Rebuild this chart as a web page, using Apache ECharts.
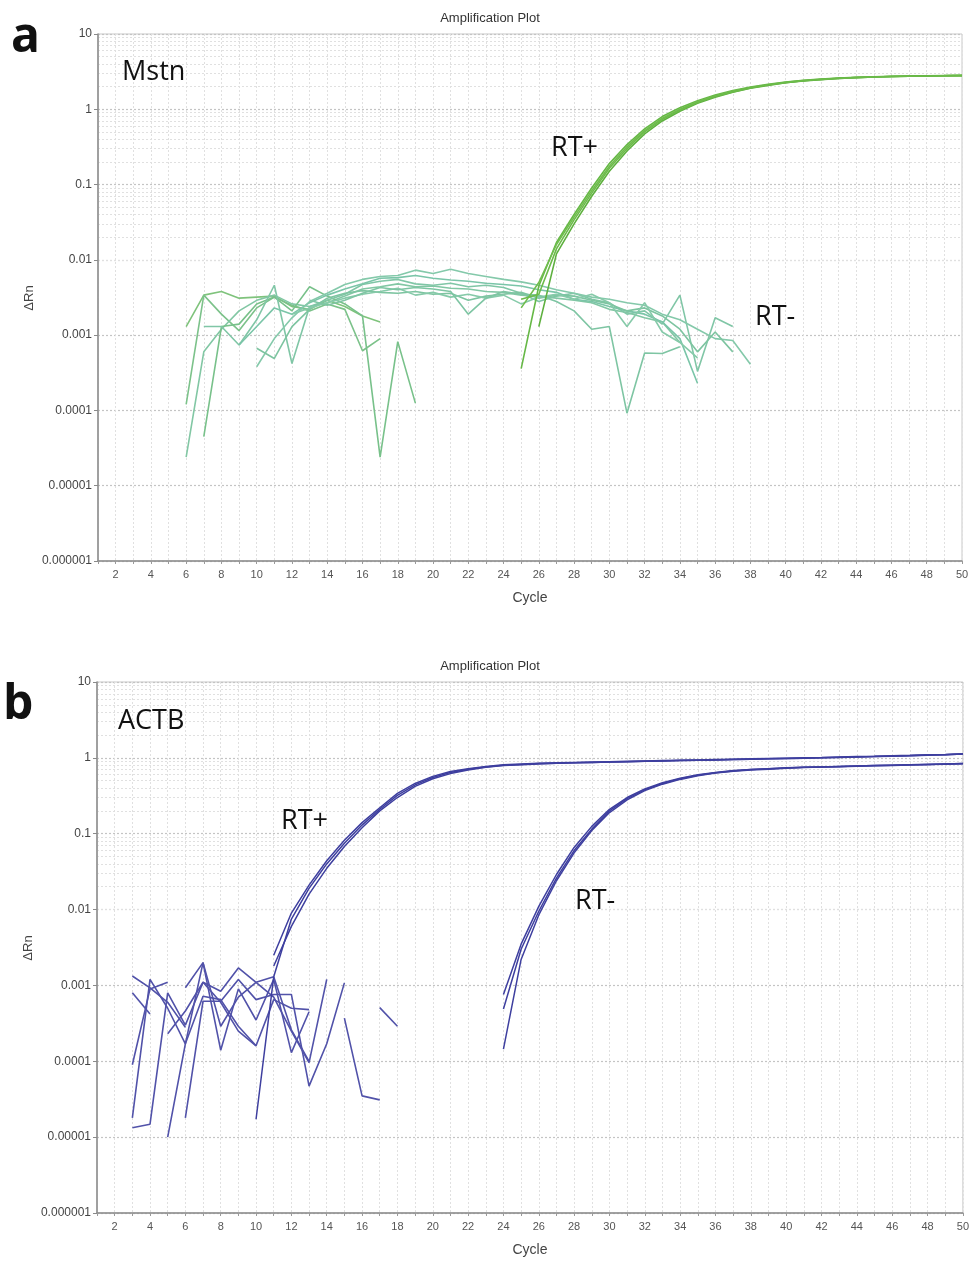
<!DOCTYPE html>
<html>
<head>
<meta charset="utf-8">
<title>Amplification Plot</title>
<script src="https://cdn.jsdelivr.net/npm/echarts@6/dist/echarts.min.js"></script>
<style>
  html, body { margin: 0; padding: 0; background: #ffffff; }
  #chart { width: 972px; height: 1264px; }
</style>
</head>
<body>
<div id="chart"></div>
<script>
// ---- axis ticks ----
const yTickLabels = ['0.000001', '0.00001', '0.0001', '0.001', '0.01', '0.1', '1', '10'];
const cycleRange = [1, 50];

// ---- Mstn: RT+ wells (ΔRn per cycle) ----
const mstnPos1 = [[25,0.00036],[26,0.0045],[27,0.017],[28,0.04],[29,0.09],[30,0.19],[31,0.34],[32,0.55],[33,0.8],[34,1.05],[35,1.3],[36,1.55],[37,1.78],[38,1.98],[39,2.15],[40,2.3],[41,2.42],[42,2.52],[43,2.6],[44,2.66],[45,2.7],[46,2.74],[47,2.77],[48,2.79],[49,2.8],[50,2.82]];
const mstnPos2 = [[25,0.0023],[26,0.005],[27,0.016],[28,0.037],[29,0.083],[30,0.175],[31,0.32],[32,0.52],[33,0.76],[34,1.0],[35,1.26],[36,1.5],[37,1.73],[38,1.94],[39,2.12],[40,2.28],[41,2.4],[42,2.5],[43,2.58],[44,2.64],[45,2.69],[46,2.73],[47,2.76],[48,2.78],[49,2.8],[50,2.81]];
const mstnPos3 = [[26,0.0013],[27,0.012],[28,0.03],[29,0.07],[30,0.15],[31,0.28],[32,0.47],[33,0.7],[34,0.94],[35,1.2],[36,1.45],[37,1.68],[38,1.9],[39,2.08],[40,2.25],[41,2.38],[42,2.48],[43,2.57],[44,2.63],[45,2.68],[46,2.72],[47,2.75],[48,2.78],[49,2.79],[50,2.8]];
const mstnPos4 = [[25,0.003],[26,0.0035],[27,0.014],[28,0.034],[29,0.077],[30,0.165],[31,0.3],[32,0.5],[33,0.73],[34,0.97],[35,1.23],[36,1.48],[37,1.7],[38,1.92],[39,2.1],[40,2.26],[41,2.39],[42,2.49],[43,2.57],[44,2.63],[45,2.68],[46,2.72],[47,2.75],[48,2.77],[49,2.79],[50,2.8]];

// ---- Mstn: RT- wells ----
const mstnNeg1 = [[6,0.0013],[7,0.0034],[8,0.0038],[9,0.0031],[10,0.0032],[11,0.0033],[12,0.0024],[13,0.0022],[14,0.0029],[15,0.0024],[16,0.0018],[17,0.0015]];
const mstnNeg2 = [[6,0.00012],[7,0.0034],[8,0.0019],[9,0.00115],[10,0.0023],[11,0.0032],[12,0.0025],[13,0.0021],[14,0.0026],[15,0.0022],[16,0.00062],[17,0.0009]];
const mstnNeg3 = [[6,0.000024],[7,0.0006],[8,0.0012],[9,0.0021],[10,0.0029],[11,0.0034],[12,0.0026],[13,0.0024],[14,0.0027],[15,0.0033],[16,0.0041],[17,0.0044],[18,0.0048],[19,0.0044],[20,0.0045],[21,0.0042],[22,0.0041],[23,0.0038],[24,0.0037],[25,0.0034],[26,0.0033],[27,0.0031],[28,0.0029],[29,0.0027],[30,0.0022],[31,0.002],[32,0.0017],[33,0.0015],[34,0.0008]];
const mstnNeg4 = [[7,0.000045],[8,0.0013],[9,0.0014],[10,0.0026],[11,0.0032],[12,0.0021],[13,0.0044],[14,0.0033],[15,0.0026],[16,0.0018],[17,0.000024],[18,0.00082],[19,0.000125]];
const mstnNeg5 = [[7,0.0013],[8,0.0013],[9,0.00074],[10,0.0016],[11,0.0046],[12,0.00042],[13,0.0024],[14,0.0029],[15,0.0035],[16,0.0047],[17,0.0052],[18,0.0055],[19,0.0048],[20,0.0046],[21,0.0049],[22,0.0044],[23,0.0046],[24,0.0043],[25,0.0036],[26,0.0028],[27,0.0033],[28,0.0036],[29,0.003],[30,0.0027],[31,0.0019],[32,0.0021],[33,0.0014],[34,0.0034],[35,0.00033],[36,0.0017],[37,0.0013]];
const mstnNeg6 = [[9,0.00074],[10,0.0013],[11,0.0023],[12,0.0019],[13,0.0027],[14,0.0034],[15,0.0041],[16,0.0048],[17,0.0057],[18,0.0058],[19,0.0062],[20,0.0057],[21,0.0054],[22,0.0052],[23,0.0049],[24,0.0047],[25,0.0045],[26,0.004],[27,0.0037],[28,0.003],[29,0.0028],[30,0.0024],[31,0.0021],[32,0.0019],[33,0.0015],[34,0.0009],[35,0.00023]];
const mstnNeg7 = [[10,0.00038],[11,0.0009],[12,0.0017],[13,0.0028],[14,0.0036],[15,0.0047],[16,0.0055],[17,0.006],[18,0.0062],[19,0.0073],[20,0.0066],[21,0.0075],[22,0.0066],[23,0.006],[24,0.0055],[25,0.0051],[26,0.0046],[27,0.004],[28,0.0036],[29,0.0032],[30,0.003],[31,0.0027],[32,0.0025],[33,0.0019],[34,0.0016],[35,0.0012],[36,0.0009],[37,0.00085],[38,0.00041]];
const mstnNeg8 = [[10,0.00067],[11,0.00049],[12,0.0013],[13,0.0022],[14,0.0031],[15,0.0036],[16,0.0039],[17,0.0037],[18,0.0036],[19,0.0038],[20,0.0035],[21,0.0036],[22,0.0029],[23,0.0033],[24,0.0035],[25,0.0037],[26,0.0031],[27,0.0034],[28,0.0033],[29,0.0029],[30,0.0026],[31,0.0021],[32,0.0023],[33,0.0018],[34,0.0012],[35,0.0006],[36,0.0011],[37,0.0006]];
const mstnNeg9 = [[12,0.0019],[13,0.0023],[14,0.0027],[15,0.0031],[16,0.0035],[17,0.0038],[18,0.0042],[19,0.0034],[20,0.0037],[21,0.0032],[22,0.0035],[23,0.0031],[24,0.0034],[25,0.0026],[26,0.0032],[27,0.0035],[28,0.003],[29,0.0035],[30,0.0027],[31,0.0013],[32,0.0027],[33,0.0011],[34,0.0008],[35,0.0005]];
const mstnNeg10 = [[13,0.0029],[14,0.0025],[15,0.0029],[16,0.0036],[17,0.0043],[18,0.004],[19,0.0043],[20,0.0041],[21,0.0038],[22,0.0019],[23,0.0031],[24,0.0038],[25,0.0035],[26,0.0034],[27,0.0028],[28,0.0021],[29,0.0012],[30,0.0013],[31,0.000092],[32,0.00058],[33,0.00057],[34,0.0007]];

// ---- ACTB: RT+ wells ----
const actbPos1 = [[10,0.0000172],[11,0.0013],[12,0.0075],[13,0.019],[14,0.04],[15,0.075],[16,0.13],[17,0.21],[18,0.32],[19,0.44],[20,0.55],[21,0.64],[22,0.71],[23,0.76],[24,0.8],[25,0.82],[26,0.84],[27,0.85],[28,0.86],[29,0.87],[30,0.88],[31,0.89],[32,0.9],[33,0.91],[34,0.92],[35,0.93],[36,0.94],[37,0.95],[38,0.96],[39,0.97],[40,0.98],[41,0.99],[42,1.0],[43,1.01],[44,1.03],[45,1.04],[46,1.05],[47,1.07],[48,1.08],[49,1.1],[50,1.12]];
const actbPos2 = [[11,0.0025],[12,0.009],[13,0.021],[14,0.044],[15,0.082],[16,0.14],[17,0.22],[18,0.34],[19,0.46],[20,0.57],[21,0.66],[22,0.72],[23,0.77],[24,0.81],[25,0.83],[26,0.85],[27,0.86],[28,0.87],[29,0.88],[30,0.89],[31,0.9],[32,0.91],[33,0.92],[34,0.93],[35,0.94],[36,0.95],[37,0.96],[38,0.97],[39,0.98],[40,0.99],[41,1.0],[42,1.01],[43,1.03],[44,1.04],[45,1.05],[46,1.07],[47,1.08],[48,1.1],[49,1.11],[50,1.13]];
const actbPos3 = [[11,0.0018],[12,0.006],[13,0.016],[14,0.035],[15,0.068],[16,0.12],[17,0.2],[18,0.3],[19,0.42],[20,0.53],[21,0.62],[22,0.69],[23,0.75],[24,0.79],[25,0.81],[26,0.83],[27,0.85],[28,0.86],[29,0.87],[30,0.88],[31,0.89],[32,0.9],[33,0.91],[34,0.92],[35,0.93],[36,0.94],[37,0.95],[38,0.96],[39,0.97],[40,0.98],[41,0.99],[42,1.0],[43,1.02],[44,1.03],[45,1.04],[46,1.06],[47,1.07],[48,1.09],[49,1.1],[50,1.12]];

// ---- ACTB: RT- wells ----
const actbNeg1 = [[24,0.00076],[25,0.0035],[26,0.011],[27,0.029],[28,0.066],[29,0.125],[30,0.21],[31,0.3],[32,0.39],[33,0.47],[34,0.54],[35,0.6],[36,0.64],[37,0.68],[38,0.7],[39,0.72],[40,0.74],[41,0.75],[42,0.76],[43,0.77],[44,0.78],[45,0.79],[46,0.8],[47,0.81],[48,0.82],[49,0.83],[50,0.84]];
const actbNeg2 = [[24,0.00049],[25,0.003],[26,0.0095],[27,0.026],[28,0.06],[29,0.115],[30,0.2],[31,0.29],[32,0.38],[33,0.46],[34,0.53],[35,0.59],[36,0.635],[37,0.67],[38,0.7],[39,0.72],[40,0.735],[41,0.75],[42,0.76],[43,0.77],[44,0.78],[45,0.79],[46,0.8],[47,0.81],[48,0.82],[49,0.83],[50,0.84]];
const actbNeg3 = [[24,0.000145],[25,0.0022],[26,0.0085],[27,0.024],[28,0.056],[29,0.11],[30,0.19],[31,0.28],[32,0.37],[33,0.45],[34,0.52],[35,0.58],[36,0.63],[37,0.665],[38,0.69],[39,0.71],[40,0.73],[41,0.745],[42,0.755],[43,0.765],[44,0.775],[45,0.785],[46,0.795],[47,0.805],[48,0.815],[49,0.825],[50,0.835]];

// ---- ACTB: baseline noise of wells below threshold ----
const actbNoise1 = [[3,0.00133],[4,0.00093],[5,0.0006],[6,0.00028]];
const actbNoise2 = [[3,0.0008],[4,0.00042]];
const actbNoise3 = [[3,0.00009],[4,0.0009],[5,0.0011]];
const actbNoise4 = [[3,0.000018],[4,0.0012],[5,0.0005],[6,0.00017],[7,0.002],[8,0.00014],[9,0.0009],[10,0.00035],[11,0.0012],[12,0.00013],[13,0.00045]];
const actbNoise5 = [[3,0.0000133],[4,0.0000148],[5,0.0008],[6,0.0003],[7,0.0011],[8,0.00084],[9,0.0017],[10,0.0011],[11,0.0013],[12,0.00026],[13,0.0001]];
const actbNoise6 = [[5,0.00001],[6,0.00017],[7,0.00072],[8,0.00065],[9,0.00029],[10,0.00016],[11,0.00065],[12,0.0005],[13,0.00048]];
const actbNoise7 = [[6,0.000018],[7,0.00062],[8,0.00062],[9,0.0012],[10,0.00065],[11,0.00076],[12,0.00076],[13,0.000047],[14,0.00017],[15,0.00108]];
const actbNoise8 = [[6,0.00093],[7,0.002],[8,0.00029],[9,0.0007],[10,0.0011],[11,0.0007],[12,0.00025],[13,0.000096],[14,0.0012]];
const actbNoise9 = [[15,0.00037],[16,0.000035],[17,0.000031]];
const actbNoise10 = [[17,0.00051],[18,0.00029]];
const actbNoise11 = [[5,0.00023],[6,0.00046],[7,0.0011],[8,0.0006],[9,0.00025],[10,0.00016]];

// ---- styling ----
const FONT = '"Liberation Sans", Arial, sans-serif';
const ANNOT = '"Open Sans", "Noto Sans", sans-serif';
const greenPos = ['#66b846', '#70bd4e', '#5eb03f', '#6cbb4a'];
const greenNeg = ['#7fc37c', '#7cc28a', '#82c7a4', '#78c18a', '#80c6a6', '#7ac5a8', '#84c9aa', '#7dc4a0', '#86caa9', '#7ec5a3'];
const bluePos = '#3e3f9f';
const blueNoise = '#5152a9';

// log-spaced minor grid (2..9 within each decade)
const minorGrid = [];
for (let e = -6; e < 1; e++) {
  for (let m = 2; m <= 9; m++) minorGrid.push(m * Math.pow(10, e));
}

function line(data, gridIdx, color, width, z) {
  return {
    type: 'line', data: data, xAxisIndex: gridIdx, yAxisIndex: gridIdx,
    showSymbol: false, symbol: 'none', smooth: false, silent: true, z: z || 3,
    lineStyle: { color: color, width: width }
  };
}

function gridSeries(gridIdx) {
  return {
    type: 'line', data: [], xAxisIndex: gridIdx, yAxisIndex: gridIdx, z: 0, silent: true,
    markLine: {
      z: 0, silent: true, symbol: ['none', 'none'], label: { show: false }, animation: false,
      lineStyle: { color: '#e0e0e0', type: [2, 2], width: 1 },
      data: minorGrid.map(v => ({ yAxis: v }))
    }
  };
}

function xAxis(gridIdx) {
  return {
    type: 'value', gridIndex: gridIdx, min: cycleRange[0], max: cycleRange[1], interval: 1,
    name: 'Cycle', nameLocation: 'middle', nameGap: 30,
    nameTextStyle: { fontFamily: FONT, fontSize: 14, color: '#444' },
    axisLine: { show: true, onZero: false, lineStyle: { color: '#8a8a8a', width: 1.5 } },
    axisTick: { show: true, length: 3, lineStyle: { color: '#9a9a9a' } },
    axisLabel: {
      fontFamily: FONT, fontSize: 11, color: '#555', margin: 8,
      formatter: v => (v % 2 === 0 ? String(v) : '')
    },
    splitLine: { show: true, lineStyle: { color: '#e0e0e0', type: [2, 2], width: 1 } }
  };
}

function yAxis(gridIdx) {
  return {
    type: 'log', logBase: 10, gridIndex: gridIdx, min: 0.000001, max: 10, interval: 1,
    axisLine: { show: true, lineStyle: { color: '#8a8a8a', width: 1.5 } },
    axisTick: { show: true, length: 4, lineStyle: { color: '#8a8a8a' } },
    axisLabel: {
      fontFamily: FONT, fontSize: 12, color: '#444', margin: 6,
      formatter: v => yTickLabels[Math.round(Math.log10(v)) + 6]
    },
    splitLine: { show: true, lineStyle: { color: '#c4c4c4', type: [2, 2], width: 1.2 } }
  };
}

const mstnNegSets = [mstnNeg1, mstnNeg2, mstnNeg3, mstnNeg4, mstnNeg5, mstnNeg6, mstnNeg7, mstnNeg8, mstnNeg9, mstnNeg10];
const mstnPosSets = [mstnPos1, mstnPos2, mstnPos3, mstnPos4];
const actbNoiseSets = [actbNoise1, actbNoise2, actbNoise3, actbNoise4, actbNoise5, actbNoise6, actbNoise7, actbNoise8, actbNoise9, actbNoise10, actbNoise11];
const actbCurveSets = [actbPos1, actbPos2, actbPos3, actbNeg1, actbNeg2, actbNeg3];

const series = [gridSeries(0), gridSeries(1)];
mstnNegSets.forEach((d, i) => series.push(line(d, 0, greenNeg[i % greenNeg.length], 1.6, 3)));
mstnPosSets.forEach((d, i) => series.push(line(d, 0, greenPos[i % greenPos.length], 1.6, 4)));
actbNoiseSets.forEach(d => series.push(line(d, 1, blueNoise, 1.6, 3)));
actbCurveSets.forEach(d => series.push(line(d, 1, bluePos, 1.5, 4)));

function text(str, x, y, font, fill, align, rotation) {
  return {
    type: 'text', x: x, y: y, rotation: rotation || 0, silent: true, z: 10,
    style: { text: str, font: font, fill: fill || '#111', textAlign: align || 'left', textVerticalAlign: 'middle' }
  };
}

const graphics = [
  text('Amplification Plot', 490, 18, '13px ' + FONT, '#333', 'center'),
  text('Amplification Plot', 490, 666, '13px ' + FONT, '#333', 'center'),
  text('ΔRn', 29, 298, '13px ' + FONT, '#444', 'center', Math.PI / 2),
  text('ΔRn', 28, 948, '13px ' + FONT, '#444', 'center', Math.PI / 2),
  text('a', 11, 38, 'bold 48px ' + ANNOT),
  text('b', 3, 705, 'bold 48px ' + ANNOT),
  text('Mstn', 122, 72, '27px ' + ANNOT),
  text('RT+', 551, 148, '27px ' + ANNOT),
  text('RT-', 755, 317, '27px ' + ANNOT),
  text('ACTB', 118, 721, '27px ' + ANNOT),
  text('RT+', 281, 821, '27px ' + ANNOT),
  text('RT-', 575, 901, '27px ' + ANNOT)
];

const chart = echarts.init(document.getElementById('chart'), null, { renderer: 'canvas' });
chart.setOption({
  backgroundColor: '#ffffff',
  animation: false,
  grid: [
    { left: 98, top: 34, width: 864, height: 527, show: true, borderColor: '#c9c9c9', borderWidth: 1, backgroundColor: '#ffffff' },
    { left: 97, top: 682, width: 870, height: 531, show: true, borderColor: '#c9c9c9', borderWidth: 1, backgroundColor: '#ffffff' }
  ],
  xAxis: [xAxis(0), xAxis(1)],
  yAxis: [yAxis(0), yAxis(1)],
  series: series,
  graphic: graphics
});
</script>
</body>
</html>
